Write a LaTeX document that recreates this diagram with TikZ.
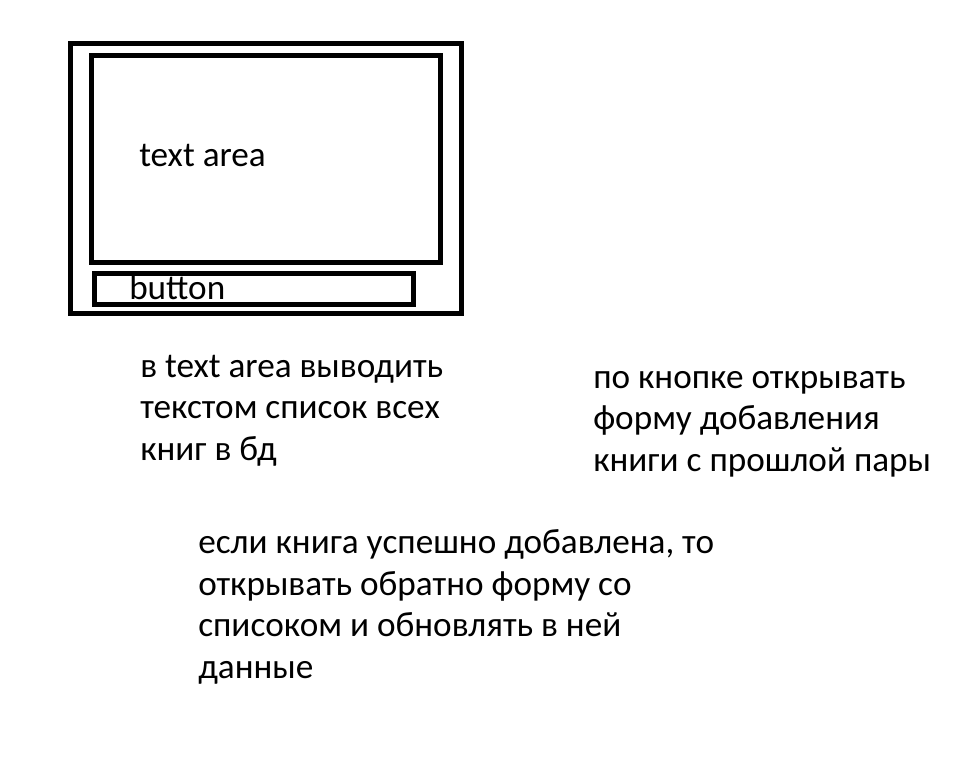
\documentclass[tikz,border=0pt]{standalone}
\usepackage{fontspec}
\setmainfont{Carlito}
\usetikzlibrary{positioning}

\begin{document}
\begin{tikzpicture}[
    x=0.75pt, y=-0.75pt,
    frame/.style={draw, line width=3.75pt},
    note/.style={anchor=base west, inner sep=0pt, align=left, font=\fontsize{26.4}{31.1}\selectfont},
  ]
  \useasboundingbox (0,0) rectangle (965,781);

  % window mock-up
  \draw[frame] (70.5,43.5) rectangle (461.5,313.5);
  \draw[frame] (91.5,55.5) rectangle (440.5,262.5);
  \draw[frame] (94.5,273.5) rectangle (413.5,304.5);
  \node[note] (area) at (139,167) {text area};
  \node[note] (btn) at (129,300) {button};

  % notes (anchored at the baseline of their last line)
  \node[note] (list) at (140,460) {в text area выводить\\ текстом список всех\\ книг в бд};
  \node[note] (open) at (593,471) {по кнопке открывать\\ форму добавления\\ книги с прошлой пары};
  \node[note] (back) at (198,678) {если книга успешно добавлена, то\\ открывать обратно форму со\\ списоком и обновлять в ней\\ данные};
\end{tikzpicture}
\end{document}
